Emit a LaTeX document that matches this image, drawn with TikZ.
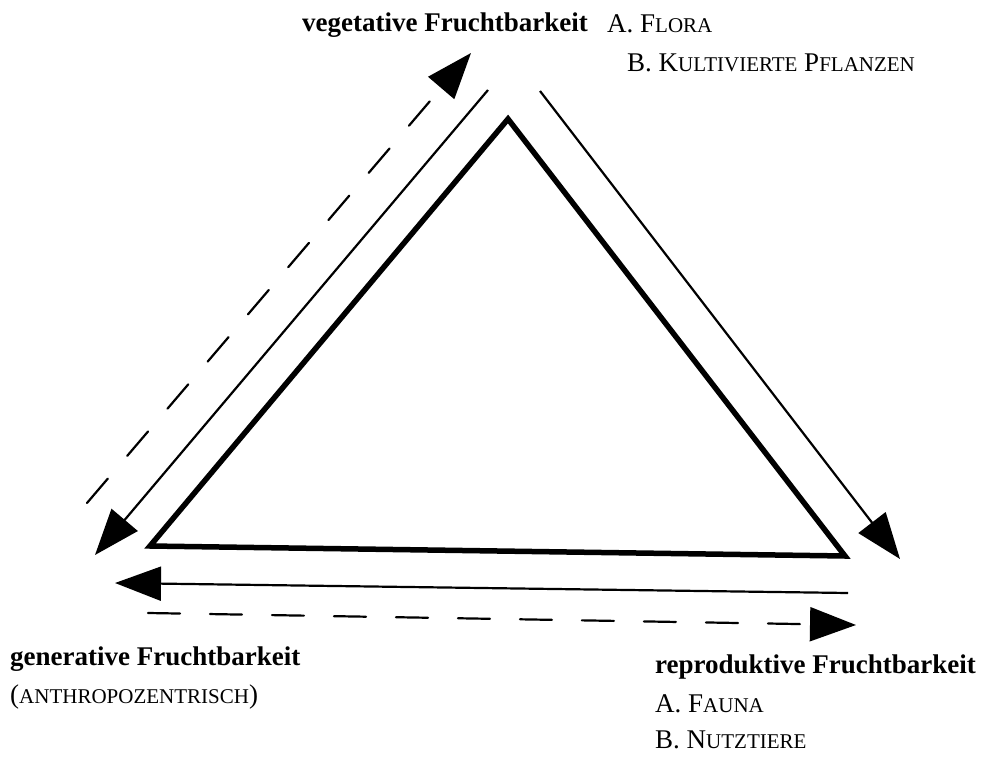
\documentclass[tikz,border=0pt]{standalone}
\usepackage{fontspec}
\setmainfont{Liberation Serif}
\usetikzlibrary{arrows.meta}
\newcommand\sck[1]{{\fontsize{21}{21}\selectfont #1}}
\tikzset{
  lbl/.style={anchor=base west, inner sep=0pt, font=\fontsize{27}{27}\selectfont},
  blbl/.style={lbl, font=\fontsize{27}{27}\selectfont\bfseries},
  arr/.style={line width=2.2pt, -{Triangle[length=46pt,width=34pt]}},
  darr/.style={arr, line cap=round, dash pattern=on 32pt off 30pt},
  tri/.style={line width=5.5pt, line join=miter}
}
\begin{document}
\begin{tikzpicture}[x=1pt,y=-1pt]
\useasboundingbox (0,0) rectangle (985,757);
% triangle
\coordinate (T) at (508,119);
\coordinate (L) at (150,546);
\coordinate (R) at (845,556);
\draw[tri] (T) -- (L) -- (R) -- cycle;
% arrow endpoints
\coordinate (ls1) at (488,90);
\coordinate (ls2) at (95,555);
\coordinate (ld1) at (87,503);
\coordinate (ld2) at (471,53);
\coordinate (rs1) at (540,91);
\coordinate (rs2) at (900,559);
\coordinate (bs1) at (848,593);
\coordinate (bs2) at (115,583);
\coordinate (bd1) at (148,613);
\coordinate (bd2) at (856,625);
\draw[arr] (ls1) -- (ls2);
\draw[darr] (ld1) -- (ld2);
\draw[arr] (rs1) -- (rs2);
\draw[arr] (bs1) -- (bs2);
\draw[darr] (bd1) -- (bd2);
% labels
\node[blbl] (veg) at (302,32) {vegetative Fruchtbarkeit};
\node[lbl] (flora) at (607,33) {A. F\sck{LORA}};
\node[lbl] (kult) at (627,72) {B. K\sck{ULTIVIERTE} P\sck{FLANZEN}};
\node[blbl] (gen) at (10,665) {generative Fruchtbarkeit};
\node[lbl] (anth) at (10,703) {(\sck{ANTHROPOZENTRISCH})};
\node[blbl] (rep) at (655,673) {reproduktive Fruchtbarkeit};
\node[lbl] (fauna) at (655,712) {A. F\sck{AUNA}};
\node[lbl] (nutz) at (655,748) {B. N\sck{UTZTIERE}};
\end{tikzpicture}
\end{document}
